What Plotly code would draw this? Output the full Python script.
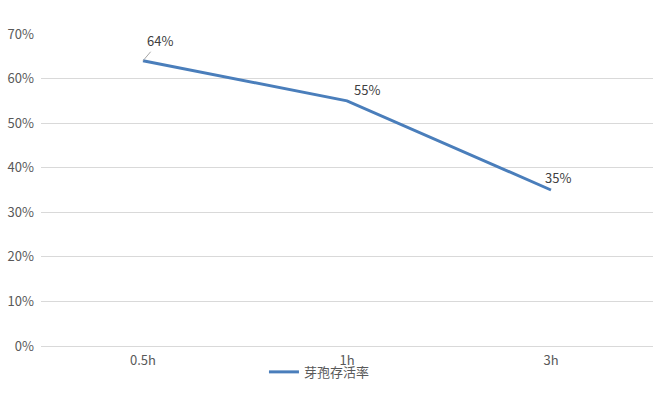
import plotly.graph_objects as go

categories = ["0.5h", "1h", "3h"]
survival = [0.64, 0.55, 0.35]
labels = ["64%", "55%", "35%"]
y_ticks = [0, 0.1, 0.2, 0.3, 0.4, 0.5, 0.6, 0.7]
y_tick_text = ["0%", "10%", "20%", "30%", "40%", "50%", "60%", "70%"]
series_name = "芽孢存活率"

FONT = "Noto Sans CJK SC, Noto Sans, sans-serif"
color = "#4a7ebb"

fig = go.Figure()
fig.add_trace(go.Scatter(
    x=categories, y=survival, mode="lines", name=series_name,
    line=dict(color=color, width=3),
))

# data labels
offsets = [(17, -20, True), (20, -11, False), (7, -13, False)]
for c, v, t, (dx, dy, arrow) in zip(categories, survival, labels, offsets):
    if arrow:
        fig.add_annotation(x=c, y=v, text=t, showarrow=True, ax=dx, ay=dy,
                           arrowhead=0, arrowwidth=1, arrowcolor="#a6a6a6",
                           standoff=0, startstandoff=0,
                           font=dict(family=FONT, size=13, color="#404040"))
    else:
        fig.add_annotation(x=c, y=v, text=t, showarrow=False,
                           xshift=dx, yshift=-dy,
                           font=dict(family=FONT, size=13, color="#404040"))

fig.update_layout(
    width=663, height=393,
    margin=dict(l=41, r=10, t=34, b=47, autoexpand=False),
    paper_bgcolor="white", plot_bgcolor="white",
    font=dict(family=FONT, size=13, color="#595959"),
    showlegend=True,
    legend=dict(orientation="h", x=0.455, xanchor="center", y=-0.035, yanchor="top",
                font=dict(family=FONT, size=13, color="#595959"),
                itemwidth=30, bgcolor="rgba(0,0,0,0)"),
    xaxis=dict(type="category", range=[-0.5, 2.5], showgrid=False, automargin=False,
               showline=True, linecolor="#d9d9d9", linewidth=1,
               ticks="", tickfont=dict(size=13, color="#595959"), ticklabelstandoff=2),
    yaxis=dict(range=[0, 0.7], tickvals=y_ticks, ticktext=y_tick_text, automargin=False,
               showgrid=True, gridcolor="#d9d9d9", gridwidth=1,
               zeroline=False, showline=False, ticks="", ticklabelstandoff=6,
               tickfont=dict(size=13, color="#595959")),
)

fig.write_html("out.html", config={"displayModeBar": False},
               post_script="document.body.style.margin='0';document.body.style.overflow='hidden';")
